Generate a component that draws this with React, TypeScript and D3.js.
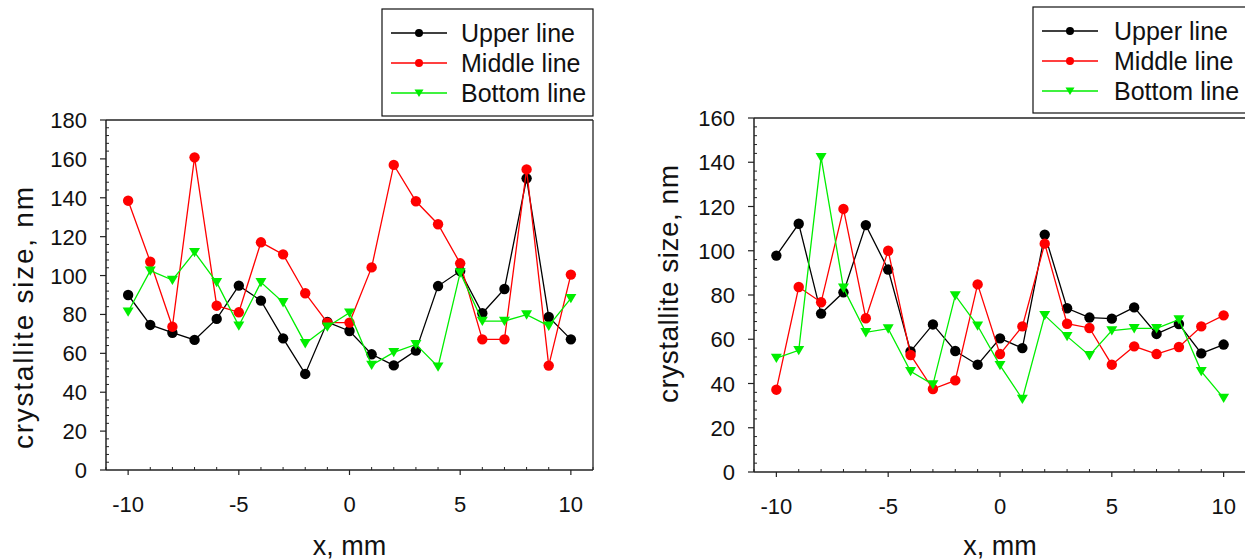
import React from "react";
import * as d3 from "d3";

const xs = [-10, -9, -8, -7, -6, -5, -4, -3, -2, -1, 0, 1, 2, 3, 4, 5, 6, 7, 8, 9, 10];

const upperL = [90, 74.6, 70.6, 66.9, 77.7, 94.8, 87.1, 67.7, 49.4, 76.1, 71.5, 59.5, 53.8, 61.4, 94.6, 102.3, 80.6, 93.1, 150, 78.7, 67.2];
const middleL = [138.5, 107.1, 73.7, 160.8, 84.5, 81.1, 117.1, 110.9, 90.9, 75.8, 75.8, 104.2, 156.9, 138.2, 126.4, 106.3, 67.2, 67.2, 154.6, 53.7, 100.5];
const bottomL = [81.4, 102.5, 97.7, 112, 96.5, 74.2, 96.5, 86.2, 65.1, 73.7, 80.9, 54, 60.5, 64.6, 53.1, 101.5, 76.6, 76.6, 79.9, 74.1, 88.3];

const upperR = [97.8, 112.2, 71.6, 81.2, 111.6, 91.5, 54.5, 66.7, 54.7, 48.5, 60.4, 56, 107.3, 74, 69.8, 69.3, 74.4, 62.4, 66.9, 53.6, 57.6];
const middleR = [37.2, 83.6, 76.7, 118.9, 69.5, 100, 52.9, 37.5, 41.4, 84.8, 53.3, 65.8, 103.2, 67, 65.1, 48.5, 56.8, 53.3, 56.5, 65.8, 70.8];
const bottomR = [51.5, 55, 142.2, 83.2, 63.1, 64.8, 45.5, 39.5, 79.8, 66.1, 48.2, 33, 70.8, 61.3, 52.7, 63.9, 64.9, 64.9, 68.9, 45.5, 33.4];

const seriesNames = ["Upper line", "Middle line", "Bottom line"];
const seriesColors = ["#000000", "#ff0000", "#00ee00"];
const seriesShapes = ["circle", "circle", "triangle"];

const xMajor = [-10, -5, 0, 5, 10];
const yMajorL = [0, 20, 40, 60, 80, 100, 120, 140, 160, 180];
const yMajorR = [0, 20, 40, 60, 80, 100, 120, 140, 160];

const FONT = "'Liberation Sans', Arial, sans-serif";

type PanelProps = {
  left: number; right: number; top: number; bottom: number;
  yMax: number; yTicks: number[];
  data: number[][];
  legend: { x: number; y: number; w: number; h: number; tx: number };
  titleX: number; titleY: number; titleLen: number;
  drawRight: boolean;
};

const triPath = "M-5.5,-4.3L5.5,-4.3L0,5Z";

function Marker({ shape, color, x, y }: { shape: string; color: string; x: number; y: number }) {
  if (shape === "circle") return <circle cx={x} cy={y} r={5.2} fill={color} />;
  return <path d={triPath} transform={`translate(${x},${y})`} fill={color} />;
}

function Panel(p: PanelProps) {
  const xScale = d3.scaleLinear().domain([-11, 11]).range([p.left, p.right]);
  const yScale = d3.scaleLinear().domain([0, p.yMax]).range([p.bottom, p.top]);
  const line = d3.line<number>().x((_, i) => xScale(xs[i])).y((d) => yScale(d));
  const xMinor = d3.range(-11, 12, 1).filter((v) => !xMajor.includes(v));
  const yMinor = d3.range(0, p.yMax + 0.1, 4).filter((v) => v % 20 !== 0);
  const axisCol = "#222";
  return (
    <g>
      <line x1={p.left} x2={p.right} y1={p.top} y2={p.top} stroke={axisCol} strokeWidth={1.3} />
      {p.drawRight && <line x1={p.right} x2={p.right} y1={p.top} y2={p.bottom} stroke={axisCol} strokeWidth={1.3} />}
      <line x1={p.left} x2={p.right} y1={p.bottom} y2={p.bottom} stroke={axisCol} strokeWidth={1.5} />
      <line x1={p.left} x2={p.left} y1={p.top} y2={p.bottom} stroke={axisCol} strokeWidth={1.5} />
      {xMajor.map((v) => (
        <g key={"xm" + v}>
          <line x1={xScale(v)} x2={xScale(v)} y1={p.bottom} y2={p.bottom + 5} stroke={axisCol} strokeWidth={1.2} />
          <text x={xScale(v)} y={p.bottom + 42} textAnchor="middle" fontFamily={FONT} fontSize={22} fill="#111">{v}</text>
        </g>
      ))}
      {xMinor.map((v) => (
        <line key={"xn" + v} x1={xScale(v)} x2={xScale(v)} y1={p.bottom} y2={p.bottom - 3} stroke={axisCol} strokeWidth={1} />
      ))}
      {p.yTicks.map((v) => (
        <g key={"ym" + v}>
          <line x1={p.left - 6} x2={p.left} y1={yScale(v)} y2={yScale(v)} stroke={axisCol} strokeWidth={1.2} />
          <text x={p.left - 19} y={yScale(v) + 8} textAnchor="end" fontFamily={FONT} fontSize={22} fill="#111">{v}</text>
        </g>
      ))}
      {yMinor.map((v) => (
        <line key={"yn" + v} x1={p.left} x2={p.left + 3} y1={yScale(v)} y2={yScale(v)} stroke={axisCol} strokeWidth={1} />
      ))}
      <text x={xScale(0)} y={555} textAnchor="middle" fontFamily={FONT} fontSize={27} fill="#111">x, mm</text>
      <text transform={`translate(${p.titleX},${p.titleY}) rotate(-90)`} textAnchor="middle" fontFamily={FONT} fontSize={28}
        textLength={p.titleLen} lengthAdjust="spacing" fill="#111">crystallite size, nm</text>
      {p.data.map((vals, si) => (
        <g key={"s" + si}>
          <path d={line(vals) || ""} fill="none" stroke={seriesColors[si]} strokeWidth={1.3} />
          {vals.map((v, i) => (
            <Marker key={i} shape={seriesShapes[si]} color={seriesColors[si]} x={xScale(xs[i])} y={yScale(v)} />
          ))}
        </g>
      ))}
      <rect x={p.legend.x} y={p.legend.y} width={p.legend.w} height={p.legend.h} fill="white" stroke="#111" strokeWidth={1.2} />
      {seriesNames.map((n, si) => {
        const cy = p.legend.y + 24 + si * 30;
        const lx = p.legend.x + 9;
        return (
          <g key={"l" + si}>
            <line x1={lx} x2={lx + 56} y1={cy} y2={cy} stroke={seriesColors[si]} strokeWidth={1.3} />
            {seriesShapes[si] === "circle"
              ? <circle cx={lx + 28} cy={cy} r={4} fill={seriesColors[si]} />
              : <path d="M-4.5,-3.5L4.5,-3.5L0,4Z" transform={`translate(${lx + 28},${cy})`} fill={seriesColors[si]} />}
            <text x={lx + p.legend.tx} y={cy + 9} fontFamily={FONT} fontSize={25} fill="#111">{n}</text>
          </g>
        );
      })}
    </g>
  );
}

export default function App() {
  return (
    <svg width={1245} height={560} style={{ position: "absolute", left: 0, top: 0, background: "white" }}>
      <rect x={0} y={0} width={1245} height={560} fill="white" />
      <Panel left={106} right={593} top={120} bottom={470} yMax={180} yTicks={yMajorL}
        data={[upperL, middleL, bottomL]}
        legend={{ x: 382, y: 9, w: 211, h: 107, tx: 70 }}
        titleX={33} titleY={318} titleLen={262} drawRight={true} />
      <Panel left={754} right={1246} top={118} bottom={472} yMax={160} yTicks={yMajorR}
        data={[upperR, middleR, bottomR]}
        legend={{ x: 1033, y: 7, w: 220, h: 106, tx: 72 }}
        titleX={678} titleY={284} titleLen={238} drawRight={true} />
    </svg>
  );
}
